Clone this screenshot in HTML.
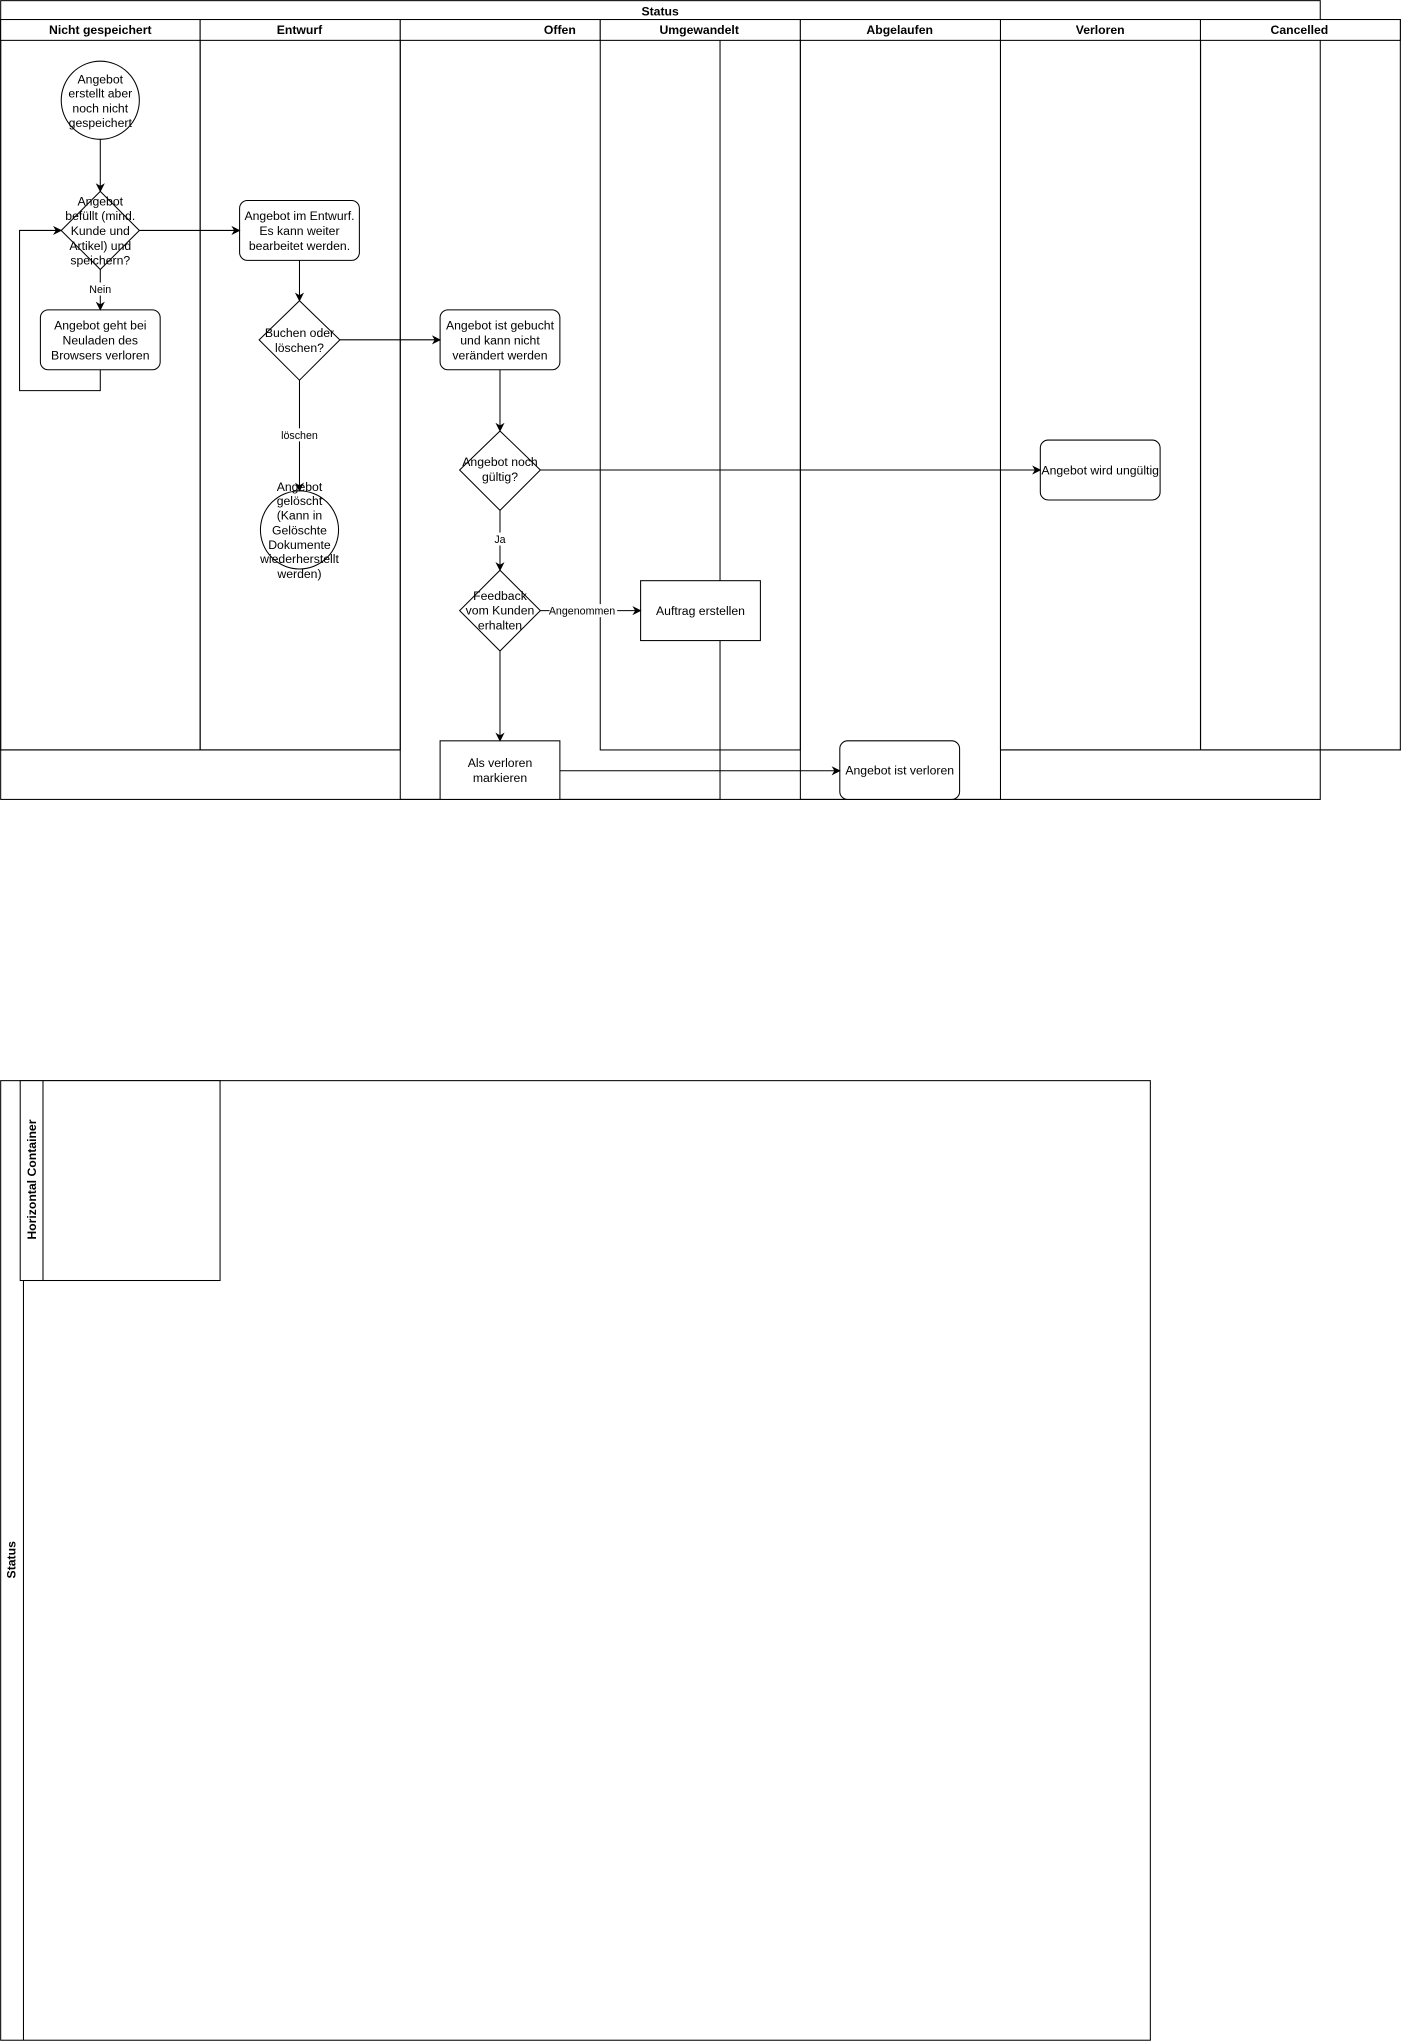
<!DOCTYPE html>
<html><head><meta charset="utf-8"><style>
html,body{margin:0;padding:0;background:#fff;}
svg{display:block;}
text{font-family:"Liberation Sans",Arial,sans-serif;font-size:9.4px;fill:#000;}
.h{font-weight:bold;font-size:9.4px;}
.l{font-size:8.2px;}
</style></head><body>
<svg width="1401" height="2041" viewBox="0 0 1076 1567.6" xmlns="http://www.w3.org/2000/svg">
<defs><marker id="a" viewBox="0 0 10 10" refX="9" refY="5" markerWidth="7" markerHeight="7" orient="auto" markerUnits="userSpaceOnUse"><path d="M0,0 L10,5 L0,10 L3,5 z" fill="#000"/></marker></defs>
<g fill="none" stroke="#000" stroke-width="0.8">
<rect x="0.5" y="0.5" width="1013.5" height="613.5"/>
<rect x="0.5" y="15" width="153.2" height="561"/>
<rect x="153.7" y="15" width="153.7" height="561"/>
<rect x="307.4" y="15" width="245.6" height="599"/>
<rect x="461" y="15" width="153.7" height="561"/>
<rect x="614.7" y="15" width="153.7" height="599"/>
<rect x="768.4" y="15" width="153.7" height="561"/>
<rect x="922" y="15" width="153.5" height="561"/>
<line x1="0" y1="576" x2="307.4" y2="576"/>
<line x1="768.4" y1="576" x2="1076" y2="576"/>
</g>
<g fill="#fff" stroke="#000" stroke-width="0.8">
<rect x="0.5" y="15" width="153.2" height="16"/>
<rect x="153.7" y="15" width="153.7" height="16"/>
<rect x="307.4" y="15" width="153.6" height="16"/>
<rect x="461" y="15" width="153.7" height="16"/>
<rect x="614.7" y="15" width="153.7" height="16"/>
<rect x="768.4" y="15" width="153.6" height="16"/>
<rect x="922" y="15" width="153.5" height="16"/>
</g>
<g fill="#fff" stroke="#000" stroke-width="0.8">
<circle cx="77" cy="77" r="30"/>
<polygon points="77,147 107,177 77,207 47,177"/>
<rect x="31" y="238" width="92" height="46" rx="6"/>
<rect x="184" y="154" width="92" height="46" rx="6"/>
<polygon points="230,231 261,261 230,292 199,261"/>
<circle cx="230" cy="407" r="30"/>
<rect x="338" y="238" width="92" height="46" rx="6"/>
<polygon points="384,331 415,361 384,392 353,361"/>
<rect x="799" y="338" width="92" height="46" rx="6"/>
<polygon points="384,438 415,469 384,500 353,469"/>
<rect x="492" y="446" width="92" height="46"/>
<rect x="338" y="569" width="92" height="45"/>
<rect x="645" y="569" width="92" height="45" rx="6"/>
</g>
<g fill="none" stroke="#000" stroke-width="0.8" marker-end="url(#a)">
<line x1="77" y1="107" x2="77" y2="147"/>
<line x1="107" y1="177" x2="184" y2="177"/>
<line x1="77" y1="207" x2="77" y2="238"/>
<polyline points="77,284 77,300 15,300 15,177 47,177"/>
<line x1="230" y1="200" x2="230" y2="231"/>
<line x1="261" y1="261" x2="338" y2="261"/>
<line x1="230" y1="292" x2="230" y2="377"/>
<line x1="384" y1="284" x2="384" y2="331"/>
<line x1="415" y1="361" x2="799" y2="361"/>
<line x1="384" y1="392" x2="384" y2="438"/>
<line x1="415" y1="469" x2="492" y2="469"/>
<line x1="384" y1="500" x2="384" y2="569"/>
<line x1="430" y1="592" x2="645" y2="592"/>
</g>
<g text-anchor="middle">
<text class="h" x="507" y="12">Status</text>
<text class="h" x="77" y="26">Nicht gespeichert</text>
<text class="h" x="230" y="26">Entwurf</text>
<text class="h" x="430" y="26">Offen</text>
<text class="h" x="537" y="26">Umgewandelt</text>
<text class="h" x="691" y="26">Abgelaufen</text>
<text class="h" x="845" y="26">Verloren</text>
<text class="h" x="998" y="26">Cancelled</text>
<text x="77" y="64">Angebot</text><text x="77" y="75">erstellt aber</text><text x="77" y="86.5">noch nicht</text><text x="77" y="97.5">gespeichert</text>
<rect x="68" y="217" width="18" height="10" fill="#fff"/>
<text class="l" x="77" y="225">Nein</text>
<text x="77" y="158">Angebot</text><text x="77" y="169">befüllt (mind.</text><text x="77" y="180.5">Kunde und</text><text x="77" y="192">Artikel) und</text><text x="77" y="203">speichern?</text>
<text x="77" y="253">Angebot geht bei</text><text x="77" y="264.5">Neuladen des</text><text x="77" y="276">Browsers verloren</text>
<text x="230" y="169">Angebot im Entwurf.</text><text x="230" y="180.5">Es kann weiter</text><text x="230" y="192">bearbeitet werden.</text>
<text x="230" y="259">Buchen oder</text><text x="230" y="270.5">löschen?</text>
<rect x="214" y="329" width="32" height="10" fill="#fff"/>
<text class="l" x="230" y="337">löschen</text>
<text x="230" y="377">Angebot</text><text x="230" y="388">gelöscht</text><text x="230" y="399">(Kann in</text><text x="230" y="410.5">Gelöschte</text><text x="230" y="421.5">Dokumente</text><text x="230" y="432.5">wiederherstellt</text><text x="230" y="444">werden)</text>
<text x="384" y="253">Angebot ist gebucht</text><text x="384" y="264.5">und kann nicht</text><text x="384" y="276">verändert werden</text>
<text x="384" y="358">Angebot noch</text><text x="384" y="369.5">gültig?</text>
<text x="845" y="364.5">Angebot wird ungültig</text>
<rect x="377" y="409" width="14" height="10" fill="#fff"/>
<text class="l" x="384" y="417">Ja</text>
<text x="384" y="461">Feedback</text><text x="384" y="472">vom Kunden</text><text x="384" y="483.5">erhalten</text>
<rect x="422" y="464" width="52" height="10" fill="#fff"/>
<text class="l" x="447" y="472">Angenommen</text>
<text x="538" y="472.5">Auftrag erstellen</text>
<text x="384" y="589">Als verloren</text><text x="384" y="600.5">markieren</text>
<text x="691" y="595">Angebot ist verloren</text>
</g>
<g fill="none" stroke="#000" stroke-width="0.8">
<rect x="0.5" y="830" width="883" height="737"/>
<line x1="18" y1="830" x2="18" y2="1567"/>
<rect x="15.5" y="830" width="153.5" height="153.5" fill="#fff"/>
<line x1="33" y1="830" x2="33" y2="983.5"/>
</g>
<text class="h" transform="translate(12,1198) rotate(-90)" text-anchor="middle">Status</text>
<text class="h" transform="translate(27.5,906) rotate(-90)" text-anchor="middle">Horizontal Container</text>
</svg>
</body></html>
